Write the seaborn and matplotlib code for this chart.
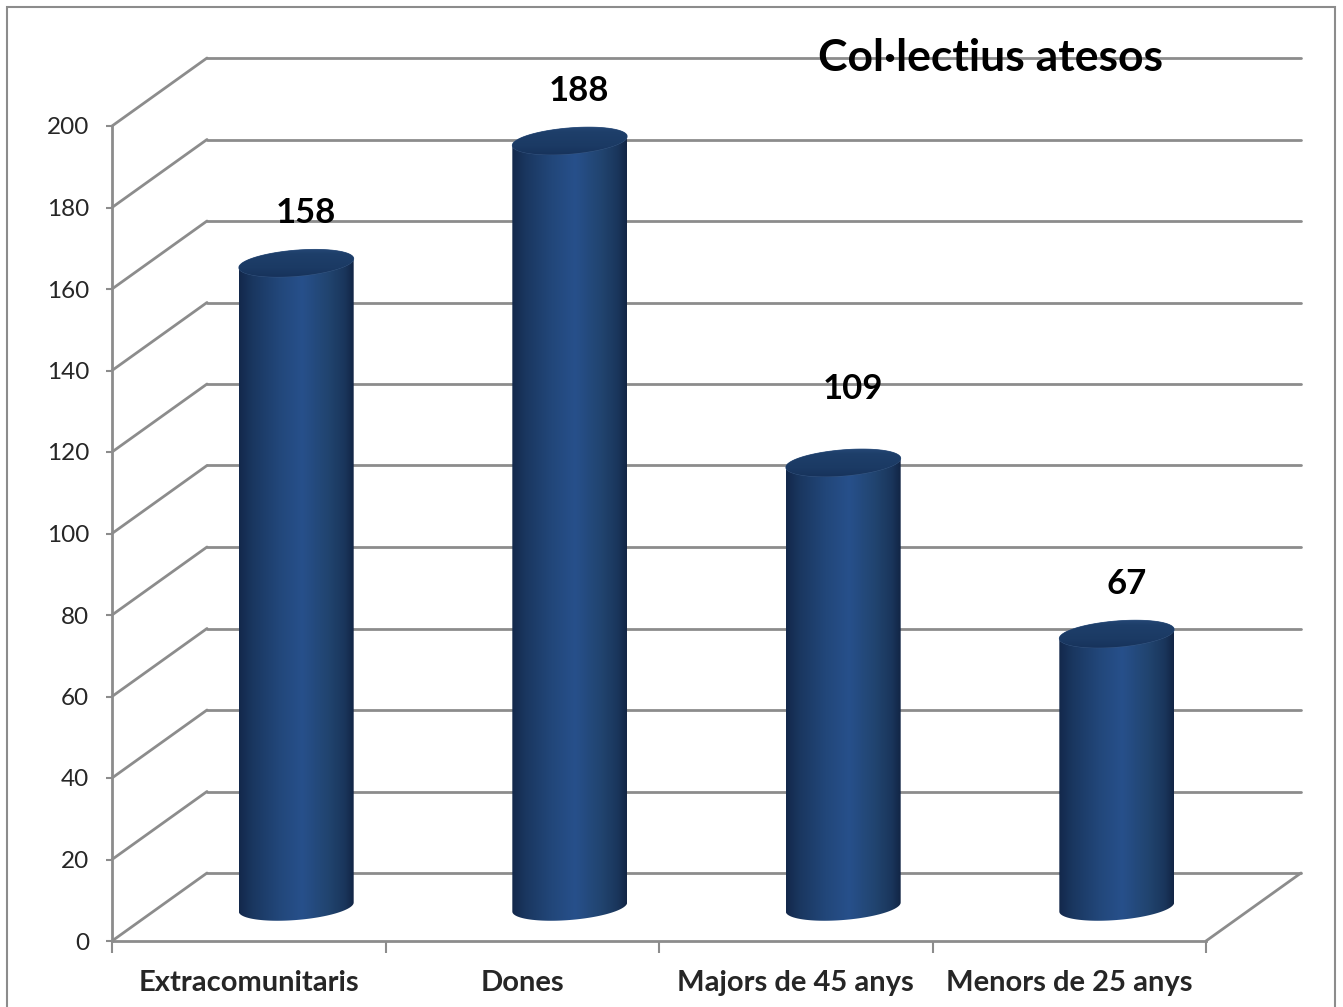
import numpy as np
import pandas as pd
import matplotlib
matplotlib.use("Agg")
import matplotlib.pyplot as plt
import seaborn as sns
from matplotlib.patches import PathPatch, Rectangle
from matplotlib.path import Path
from matplotlib.colors import LinearSegmentedColormap

# ---- data ----
categories = ["Extracomunitaris", "Dones", "Majors de 45 anys", "Menors de 25 anys"]
values = [158, 188, 109, 67]
yticks = [0, 20, 40, 60, 80, 100, 120, 140, 160, 180, 200]
title = "Col·lectius atesos"

# ---- style ----
W, H, DPI = 1343, 1007, 100
GRID = "#8c8c8c"
FONT = ["Lato", "DejaVu Sans"]
DEPTH_PX = (95, 68)        # back wall offset in pixels
BAR_W = 0.42
ELL_B = 13                 # ellipse semi-minor (px)
ELL_TILT = 4.5             # px rise of right end vs centre
label_nudge_px = [0, 0, 24, 0]

sns.set_theme(style="white")
plt.rcParams["font.family"] = FONT

fig = plt.figure(figsize=(W / DPI, H / DPI), dpi=DPI)
left, right, bottom, top = 112, 1206, 941, 126
ax = fig.add_axes([left / W, 1 - bottom / H, (right - left) / W, (bottom - top) / H])
ax.set_facecolor("none")

df = pd.DataFrame({"cat": categories, "val": values})
sns.barplot(data=df, x="cat", y="val", ax=ax, width=BAR_W, color="#264e86", saturation=1)
ax.set_xlim(-0.5, len(categories) - 0.5)
ax.set_ylim(0, 200)

T = ax.transData
Ti = T.inverted()

def shift(x, y, dx, dy):
    px, py = T.transform((x, y))
    return Ti.transform((px + dx, py + dy))

# back wall gridlines and diagonals
dxb, dyb = DEPTH_PX
for yv in yticks:
    p0 = shift(-0.5, yv, dxb, dyb)
    p1 = shift(len(categories) - 0.5, yv, dxb, dyb)
    ax.plot([p0[0], p1[0]], [p0[1], p1[1]], color=GRID, lw=2, clip_on=False, zorder=1)
    ax.plot([-0.5, p0[0]], [yv, p0[1]], color=GRID, lw=2, clip_on=False, zorder=1)
pr = shift(len(categories) - 0.5, 0, dxb, dyb)
ax.plot([len(categories) - 0.5, pr[0]], [0, pr[1]], color=GRID, lw=2, clip_on=False, zorder=1)

# cylinders
body_cmap = LinearSegmentedColormap.from_list("body", [
    (0.0, "#13284b"), (0.12, "#1a3760"), (0.35, "#22477a"), (0.55, "#27508b"),
    (0.78, "#21446f"), (0.92, "#1a365c"), (1.0, "#122545")])
top_cmap = LinearSegmentedColormap.from_list("top", [
    (0.0, "#16315a"), (0.35, "#1b3a64"), (0.8, "#1e3f6a"), (1.0, "#284b7a")])

grad = np.linspace(0, 1, 256).reshape(1, -1)
tvals = np.linspace(0, 2 * np.pi, 200)
for p in ax.patches:
    x0, w, h = p.get_x(), p.get_width(), p.get_height()
    p.set_visible(False)
    (xl, yb), (xr, yt) = T.transform((x0, 0)), T.transform((x0 + w, h))
    xl, xr = xl + dxb / 2, xr + dxb / 2
    yb, yt = yb + dyb / 2, yt + dyb / 2
    xc, a = (xl + xr) / 2, (xr - xl) / 2
    s = ELL_TILT / a
    tb = np.linspace(np.pi, 2 * np.pi, 100)
    bot = np.column_stack([xc + a * np.cos(tb), yb + ELL_B * np.sin(tb) + s * a * np.cos(tb)])
    tt = np.linspace(0, np.pi, 100)
    topc = np.column_stack([xc + a * np.cos(tt), yt + ELL_B * np.sin(tt) + s * a * np.cos(tt)])
    pts = np.vstack([bot, topc])
    pts_d = Ti.transform(pts)
    body = PathPatch(Path(np.vstack([pts_d, pts_d[:1]]), closed=True), facecolor="none",
                     edgecolor="none", zorder=3)
    ax.add_patch(body)
    (ex0, ey0), (ex1, ey1) = Ti.transform((xl, yb - 20)), Ti.transform((xr, yt + 20))
    im = ax.imshow(grad, cmap=body_cmap, extent=[ex0, ex1, ey0, ey1], aspect="auto",
                   zorder=3, interpolation="bilinear")
    im.set_clip_path(body)
    ell = np.column_stack([xc + a * np.cos(tvals), yt + ELL_B * np.sin(tvals) + s * a * np.cos(tvals)])
    ell_d = Ti.transform(ell)
    topp = PathPatch(Path(ell_d, closed=True), facecolor="none", edgecolor="#3a5a85",
                     lw=0.6, zorder=4)
    ax.add_patch(topp)
    (fx0, fy0), (fx1, fy1) = Ti.transform((xl, yt - 16)), Ti.transform((xr, yt + 16))
    im2 = ax.imshow(np.linspace(0, 1, 64).reshape(-1, 1)[::-1], cmap=top_cmap,
                    extent=[fx0, fx1, fy0, fy1], aspect="auto", zorder=4,
                    interpolation="bilinear")
    im2.set_clip_path(topp)

ax.set_xlim(-0.5, len(categories) - 0.5)
ax.set_ylim(0, 200)

# data labels
for i, v in enumerate(values):
    ax.annotate(str(v), xy=(i, v), xytext=(57, 84 + label_nudge_px[i]), textcoords="offset pixels",
                ha="center", va="center", fontsize=25, fontweight="bold", color="black", zorder=5)

# axes styling
for sp in ["top", "right"]:
    ax.spines[sp].set_visible(False)
for sp in ["left", "bottom"]:
    ax.spines[sp].set_color(GRID)
    ax.spines[sp].set_linewidth(2)
    ax.spines[sp].set_zorder(2)
ax.set_yticks(yticks)
ax.set_yticklabels([str(t) for t in yticks])
ax.tick_params(axis="y", length=4.3, width=1.5, color=GRID, pad=12, labelsize=17.5, left=True)
ax.set_xticks(range(len(categories)))
ax.set_xticklabels(categories, fontweight="bold")
ax.set_xticks(np.arange(-0.5, len(categories)), minor=True)
ax.tick_params(axis="x", which="major", length=0, pad=21, labelsize=21)
ax.tick_params(axis="x", which="minor", length=8.6, width=1.5, color=GRID, bottom=True)
ax.set_xlabel("")
ax.set_ylabel("")
ax.grid(False)

fig.text(991 / W, 1 - 58 / H, title, ha="center", va="center", fontsize=32,
         fontweight="bold", color="black")

fig.patches.append(Rectangle((7 / W, -0.05), (1335 - 7) / W, 1.05 - 7 / H,
                             transform=fig.transFigure, fill=False, edgecolor=GRID, lw=1.5))

fig.savefig("out.png", dpi=DPI, facecolor="white")
